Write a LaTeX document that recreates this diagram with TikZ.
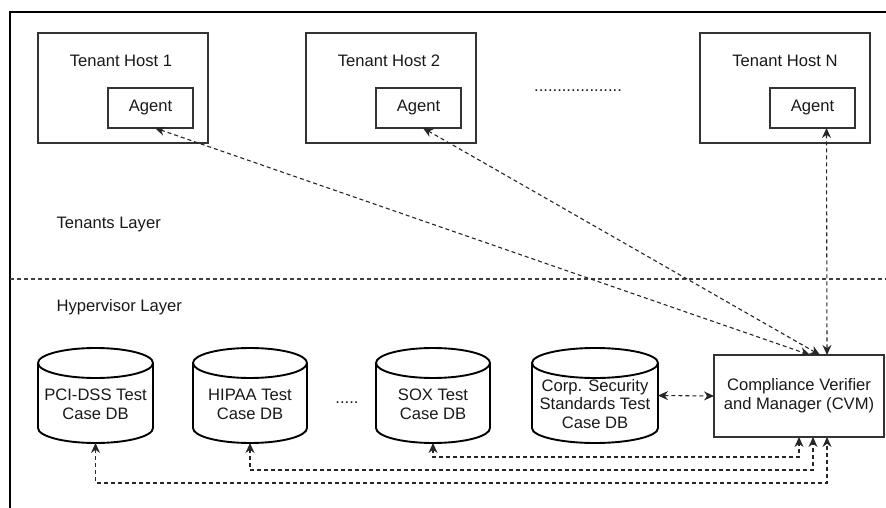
\documentclass[tikz,border=0pt]{standalone}
\usepackage{fontspec}
\setmainfont{Liberation Sans}
\usetikzlibrary{arrows.meta,calc}
\newcommand{\drawdb}[1]{%
  \draw[dbline] let \p1=(#1.north west), \p2=(#1.south east) in
    (\x1,{\y1-15pt}) -- (\x1,{\y2+15pt})
    arc[start angle=180,end angle=360,x radius={(\x2-\x1)/2},y radius=15pt]
    -- (\x2,{\y1-15pt})
    arc[start angle=0,end angle=360,x radius={(\x2-\x1)/2},y radius=15pt];}
\begin{document}
\begin{tikzpicture}[x=1pt,y=1pt,
  every node/.style={font=\fontsize{16.6}{18.8}\selectfont, text=black!90},
  box/.style={draw=black!80, line width=1.2pt, inner sep=0, outer sep=0},
  db/.style={inner sep=0, outer sep=0, minimum height=95pt},
  dbline/.style={draw=black, line width=1.9pt},
  conn/.style={line width=1.1pt, draw=black!85, dash pattern=on 4pt off 3pt,
    {Stealth[length=10pt,width=9pt]}-{Stealth[length=10pt,width=9pt]}},
  sepline/.style={line width=1.1pt, draw=black!75, dash pattern=on 4pt off 3pt},
  frame/.style={line width=1.4pt, draw=black}]
\useasboundingbox (0,0) rectangle (886,-508);
\draw[frame] (10,-508) -- (10,-12) -- (886,-12);
% tenant hosts
\node[box, minimum width=170pt, minimum height=110pt] (h1) at (123,-88) {};
\node (h1t) at (121,-61) {Tenant Host 1};
\node[box, minimum width=85pt, minimum height=40pt] (a1) at (150.5,-108) {Agent};
\node[box, minimum width=170pt, minimum height=110pt] (h2) at (391,-88) {};
\node (h2t) at (389,-61) {Tenant Host 2};
\node[box, minimum width=85pt, minimum height=40pt] (a2) at (418.5,-108) {Agent};
\node[box, minimum width=170pt, minimum height=110pt] (hN) at (785,-88) {};
\node (hNt) at (785,-61) {Tenant Host N};
\node[box, minimum width=85pt, minimum height=40pt] (aN) at (812.5,-108) {Agent};
\node[anchor=base] (dots1) at (578,-92) {...................};
% layers
\node[anchor=west] (tl) at (53,-225) {Tenants Layer};
\draw[sepline] (10,-279) -- (886,-279);
\node[anchor=west] (hl) at (53,-307) {Hypervisor Layer};
% databases
\node[db, minimum width=115pt, label={[yshift=-8.5pt,align=center]center:PCI-DSS Test\\Case DB}] (pci) at (95.5,-395.5) {};
\node[db, minimum width=114pt, label={[yshift=-8.5pt,align=center]center:HIPAA Test\\Case DB}] (hipaa) at (250,-395.5) {};
\node[anchor=base] (dots2) at (347,-403) {.....};
\node[db, minimum width=114pt, label={[yshift=-8.5pt,align=center]center:SOX Test\\Case DB}] (sox) at (433,-395.5) {};
\node[db, minimum width=126pt, label={[yshift=-8.5pt,align=center]center:Corp. Security\\Standards Test\\Case DB}] (corp) at (595,-395.5) {};
\drawdb{pci}
\drawdb{hipaa}
\drawdb{sox}
\drawdb{corp}
% CVM
\node[box, minimum width=170pt, minimum height=82pt, align=center] (cvm) at (799,-396) {Compliance Verifier\\and Manager (CVM)};
% connectors
\draw[conn] ($(a1.south)+(4.5,0)$) -- ($(cvm.north)+(11,0)$);
\draw[conn] ($(a2.south)+(4.5,0)$) -- ($(cvm.north)+(21,0)$);
\draw[conn] ($(aN.south)+(14,0)$) -- ($(cvm.north)+(28,0)$);
\draw[conn] (corp.east) -- (cvm.west);
\draw[conn] (sox.south) -- ++(0,-14) -| (cvm.south);
\draw[conn] (hipaa.south) -- ++(0,-27) -| ($(cvm.south)+(14,0)$);
\draw[conn] (pci.south) -- ++(0,-40) -| ($(cvm.south)+(28,0)$);
\end{tikzpicture}
\end{document}
